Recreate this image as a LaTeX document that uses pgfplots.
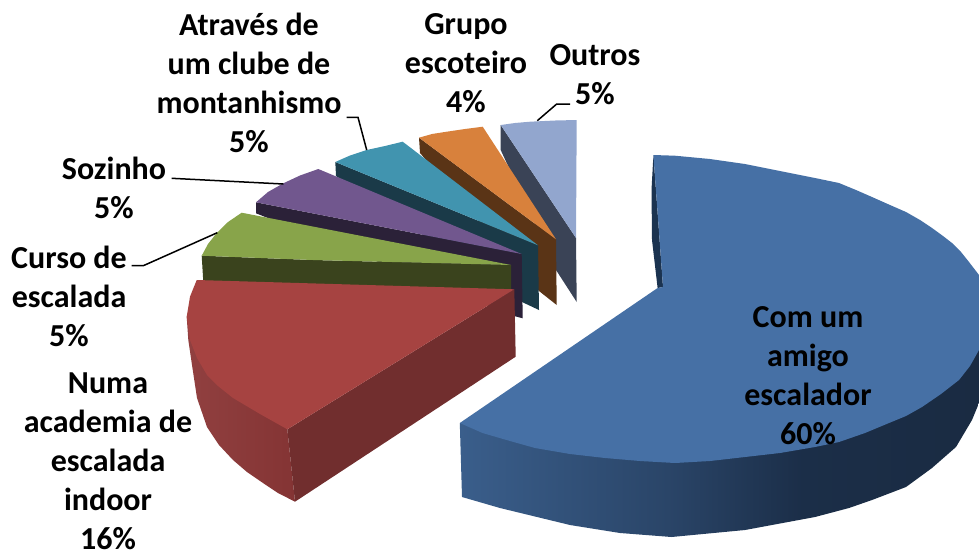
\documentclass[border=0pt]{standalone}
\usepackage{pgfplots}
\pgfplotsset{compat=1.18}
\usepackage{fontspec}
\setmainfont{Carlito}
\definecolor{bluetop}{HTML}{4670A5}
\definecolor{bluesliver}{HTML}{1B3350}
\definecolor{bwa}{HTML}{3A5E8B}
\definecolor{bwb}{HTML}{2A4568}
\definecolor{bwc}{HTML}{1B2E48}
\definecolor{bwd}{HTML}{1A2B42}
\pgfdeclarehorizontalshading{bluewall}{100bp}{color(0bp)=(bwa);color(25bp)=(bwa);color(45bp)=(bwb);color(58bp)=(bwc);color(75bp)=(bwd);color(100bp)=(bwd)}
\definecolor{redtop}{HTML}{A64341}
\definecolor{redwall}{HTML}{712E2E}
\definecolor{rwl}{HTML}{914040}
\definecolor{rwr}{HTML}{843434}
\definecolor{greentop}{HTML}{88A44A}
\definecolor{greenwall}{HTML}{3A431D}
\definecolor{purptop}{HTML}{71578E}
\definecolor{purpwall}{HTML}{2B2138}
\definecolor{tealtop}{HTML}{4194AF}
\definecolor{tealwall}{HTML}{1A3A48}
\definecolor{orgtop}{HTML}{D8813C}
\definecolor{orgwall}{HTML}{5A3416}
\definecolor{pertop}{HTML}{92A6CE}
\definecolor{perwall}{HTML}{3A4356}
\begin{document}
\begin{tikzpicture}
\path[use as bounding box] (0,0) rectangle (979pt,550pt);
\begin{axis}[
  anchor=south west, at={(0,0)},
  scale only axis, width=979pt, height=550pt,
  xmin=0, xmax=979, ymin=0, ymax=550, y dir=reverse,
  hide axis, clip=false,
  nodes={font=\fontsize{32}{39}\selectfont\bfseries, align=center, inner sep=0pt, overlay},
]
% Outros
\addplot[draw=none,fill=perwall] coordinates {(500.7,125)(576,238)(576.7,302)(556,270)(500.7,150)} -- cycle;
\addplot[draw=none,fill=pertop] coordinates {(500.7,125)(515,123)(530,121.7)(555,120.5)(576.7,120)(576,238)} -- cycle;
% Grupo
\addplot[draw=none,fill=orgwall] coordinates {(419,137.7)(556,239.3)(556.7,305)(539,291)(420,153)} -- cycle;
\addplot[draw=none,fill=orgtop] coordinates {(419,137.7)(432,134)(446.7,131.7)(465,129)(482.7,126.7)(556,239.3)} -- cycle;
% Clube
\addplot[draw=none,fill=tealwall] coordinates {(335.3,162)(538,245.3)(539,310)(522,302)(336,176)} -- cycle;
\addplot[draw=none,fill=tealtop] coordinates {(335.3,162)(350,155.5)(366.7,150)(385,146)(402.7,141.7)(538,245.3)} -- cycle;
% Sozinho
\addplot[draw=none,fill=purpwall] coordinates {(256,202.3)(521.7,254)(522.7,318.3)(514,316)(256,213.3)} -- cycle;
\addplot[draw=none,fill=purptop] coordinates {(256,202.3)(268,192)(283.3,183.3)(300,175.5)(318.3,169)(521.7,254)} -- cycle;
% Curso
\addplot[draw=none,fill=greenwall] coordinates {(201.7,255.7)(313,260)(511,265)(511,290)(203.3,282)} -- cycle;
\addplot[draw=none,fill=greentop] coordinates {(201.7,255.7)(208,244)(216.7,233)(228,222)(241.7,212.7)(511,265)(313,260)} -- cycle;
% Numa academia
\addplot[draw=none,left color=rwl,right color=rwr] coordinates {(186.7,316.7)(188.3,340)(192,365)(197,398)(207,427)(219,445)(233,460)(247,472)(263,483)(278,493)(295,501.7)(287.3,429.3)} -- cycle;
\addplot[draw=none,fill=redwall] coordinates {(514.3,289.3)(287.3,429.3)(295,501.7)(515.7,356.7)} -- cycle;
\addplot[draw=none,fill=redtop] coordinates {(196.7,280)(514.3,289.3)(287.3,429.3)(260,414)(233,398)(218,386)(207,375)(197,358)(190,340)(186.7,316.7)(190,296.7)} -- cycle;
% Com um amigo
\addplot[draw=none,fill=bluesliver] coordinates {(653.4,155)(651.5,190)(652,240)(657.6,288)(663,287)} -- cycle;
\addplot[draw=none,shading=bluewall] coordinates {(459.8,423)(462,497)(500,508)(570,525)(620,533)(671.6,537)(745,530)(815,517)(849,508)(872,500)(906,487)(932,468)(956,447)(972,420)(979,403)(979,340)(675,440)} -- cycle;
\addplot[draw=none,fill=bluetop] coordinates {(653.4,155)(675,155.7)(710,159)(745,164)(780,171)(815,178)(839,183)(856,190)(872,197)(890,205)(906,212)(920,220)(932,228)(943,236)(952,243)(961,252)(969,262)(979,275)(979,350)(970,366)(959,380)(941,394)(922,407)(906,416)(889,423)(865,433)(839,442)(815,447)(780,453)(745,457)(710,461)(675,463)(640,461)(605,458)(570,454)(535,448)(510,441)(482.5,433)(459.8,423)(657.6,288)(663,287)} -- cycle;
% Leaders
\addplot[black,line width=1.5pt] coordinates {(346.7,117.3)(358,117.3)(366.7,150)};
\addplot[black,line width=1.5pt] coordinates {(171.7,178.3)(283.3,184)};
\addplot[black,line width=1.5pt] coordinates {(131.7,265.7)(143.3,265.7)(217.3,232.7)};
\addplot[black,line width=1.5pt] coordinates {(537.3,120.7)(556.7,104)(570,104)};
% Labels
\node at (axis cs:249,83) {Através de\\um clube de\\montanhismo\\5\%};
\node at (axis cs:466,63) {Grupo\\escoteiro\\4\%};
\node at (axis cs:595,75) {Outros\\5\%};
\node at (axis cs:114,188) {Sozinho\\5\%};
\node at (axis cs:69,296) {Curso de\\escalada\\5\%};
\node at (axis cs:108,461) {Numa\\academia de\\escalada\\indoor\\16\%};
\node at (axis cs:808,376) {Com um\\amigo\\escalador\\60\%};
\end{axis}
\end{tikzpicture}
\end{document}
